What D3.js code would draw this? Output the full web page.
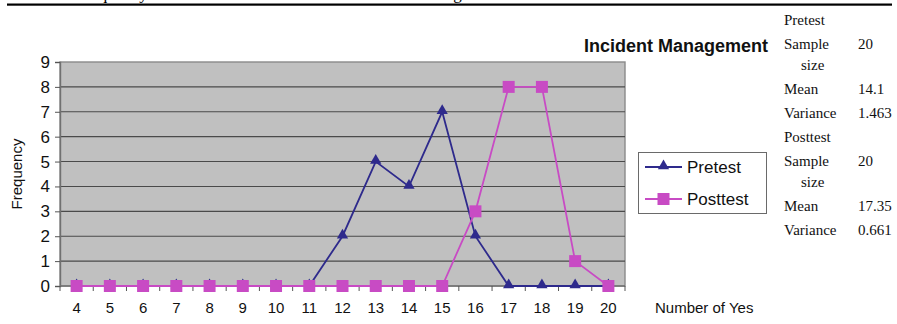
<!DOCTYPE html>
<html>
<head>
<meta charset="utf-8">
<script src="https://cdn.jsdelivr.net/npm/d3@7"></script>
<style>
  html, body { margin: 0; padding: 0; background: #fff; }
  svg { display: block; }
</style>
</head>
<body>
<svg id="chart" width="897" height="324"></svg>
<script>
// Number of "yes" answers and how many respondents gave each count
const categories = [4, 5, 6, 7, 8, 9, 10, 11, 12, 13, 14, 15, 16, 17, 18, 19, 20];
const pretest  = [0, 0, 0, 0, 0, 0, 0, 0, 2, 5, 4, 7, 2, 0, 0, 0, 0];
const posttest = [0, 0, 0, 0, 0, 0, 0, 0, 0, 0, 0, 0, 3, 8, 8, 1, 0];
const yTicks = [0, 1, 2, 3, 4, 5, 6, 7, 8, 9];
const seriesNames = ["Pretest", "Posttest"];

// Summary statistics listed beside the chart
const statGroups = ["Pretest", "Posttest"];
const statLabels = ["Sample", "Mean", "Variance"];
const pretestStats = ["20", "14.1", "1.463"];
const posttestStats = ["20", "17.35", "0.661"];

const svg = d3.select("#chart");
const sans = "'Liberation Sans', Arial, sans-serif";
const serif = "'Liberation Serif', 'Times New Roman', serif";

// Rule and the clipped caption line above it
svg.append("text")
  .attr("x", 76).attr("y", -1)
  .attr("font-family", serif).attr("font-size", 17)
  .text("Frequency distribution of the answers to Incident Management");
svg.append("rect")
  .attr("x", 7).attr("y", 3.5).attr("width", 885).attr("height", 2.2)
  .attr("fill", "#000");

// Plot area
const plot = { left: 60, top: 62, right: 625, bottom: 286 };

const x = d3.scaleBand()
  .domain(categories)
  .range([plot.left, plot.right])
  .paddingInner(0).paddingOuter(0);
const y = d3.scaleLinear()
  .domain([0, 9])
  .range([plot.bottom, plot.top]);

svg.append("rect")
  .attr("x", plot.left).attr("y", plot.top)
  .attr("width", plot.right - plot.left).attr("height", plot.bottom - plot.top)
  .attr("fill", "#c0c0c0")
  .attr("stroke", "#8a8a8a").attr("stroke-width", 1.4);

// Horizontal gridlines
svg.append("g")
  .selectAll("line")
  .data(yTicks.filter(d => d > 0 && d < 9))
  .join("line")
  .attr("x1", plot.left).attr("x2", plot.right)
  .attr("y1", d => y(d)).attr("y2", d => y(d))
  .attr("stroke", "#4a4a4a").attr("stroke-width", 1.1);

// Y axis
const yAxis = svg.append("g")
  .attr("transform", `translate(${plot.left},0)`)
  .call(d3.axisLeft(y).tickValues(yTicks).tickSize(5).tickPadding(5).tickFormat(d3.format("d")));
yAxis.select(".domain").attr("stroke", "#707070").attr("stroke-width", 1.4);
yAxis.selectAll(".tick line").attr("stroke", "#555");
yAxis.selectAll("text")
  .attr("font-family", sans).attr("font-size", 17).attr("fill", "#111");

// X axis: ticks between categories, labels centred on each category
const xAxisG = svg.append("g")
  .attr("transform", `translate(0,${plot.bottom})`);
xAxisG.append("line")
  .attr("x1", plot.left).attr("x2", plot.right)
  .attr("stroke", "#707070").attr("stroke-width", 1.4);
xAxisG.selectAll(".sep")
  .data(categories)
  .join("line")
  .attr("class", "sep")
  .attr("x1", d => x(d)).attr("x2", d => x(d))
  .attr("y1", 0).attr("y2", 5)
  .attr("stroke", "#555");
xAxisG.append("line")
  .attr("x1", plot.right).attr("x2", plot.right)
  .attr("y1", 0).attr("y2", 5).attr("stroke", "#555");
xAxisG.selectAll(".lbl")
  .data(categories)
  .join("text")
  .attr("class", "lbl")
  .attr("x", d => x(d) + x.bandwidth() / 2)
  .attr("y", 27)
  .attr("text-anchor", "middle")
  .attr("font-family", sans).attr("font-size", 15).attr("fill", "#111")
  .text(d => d);

// Axis titles
svg.append("text")
  .attr("transform", "translate(22,174) rotate(-90)")
  .attr("text-anchor", "middle")
  .attr("font-family", sans).attr("font-size", 15).attr("fill", "#111")
  .text("Frequency");
svg.append("text")
  .attr("x", 655).attr("y", 313)
  .attr("font-family", sans).attr("font-size", 15).attr("fill", "#111")
  .text("Number of Yes");

// Chart title
svg.append("text")
  .attr("x", 768).attr("y", 52)
  .attr("text-anchor", "end")
  .attr("font-family", sans).attr("font-size", 18).attr("font-weight", "bold")
  .attr("fill", "#111")
  .text("Incident Management");

// Series
const colors = { Pretest: "#2e2a8c", Posttest: "#c84bc4" };
const cx = d => x(d) + x.bandwidth() / 2;
const line = d3.line()
  .x(d => cx(d.cat))
  .y(d => y(d.val));

const seriesData = [
  { name: "Pretest", values: categories.map((c, i) => ({ cat: c, val: pretest[i] })) },
  { name: "Posttest", values: categories.map((c, i) => ({ cat: c, val: posttest[i] })) }
];

const triangle = d3.symbol().type(d3.symbolTriangle).size(55);

seriesData.forEach(s => {
  svg.append("path")
    .datum(s.values)
    .attr("d", line)
    .attr("fill", "none")
    .attr("stroke", colors[s.name])
    .attr("stroke-width", 1.8);
  const g = svg.append("g");
  if (s.name === "Pretest") {
    g.selectAll("path")
      .data(s.values)
      .join("path")
      .attr("d", triangle)
      .attr("transform", d => `translate(${cx(d.cat)},${y(d.val) - 1})`)
      .attr("fill", colors[s.name]);
  } else {
    g.selectAll("rect")
      .data(s.values)
      .join("rect")
      .attr("x", d => cx(d.cat) - 6).attr("y", d => y(d.val) - 6)
      .attr("width", 12).attr("height", 12)
      .attr("fill", colors[s.name]);
  }
});

// Legend
const legend = svg.append("g");
legend.append("rect")
  .attr("x", 638.5).attr("y", 152.5).attr("width", 128).attr("height", 61)
  .attr("fill", "#fff").attr("stroke", "#6a6a6a").attr("stroke-width", 1);
seriesNames.forEach((name, i) => {
  const ly = 167 + i * 32;
  legend.append("line")
    .attr("x1", 645).attr("x2", 682).attr("y1", ly).attr("y2", ly)
    .attr("stroke", colors[name]).attr("stroke-width", 1.8);
  if (name === "Pretest") {
    legend.append("path")
      .attr("d", triangle)
      .attr("transform", `translate(663.5,${ly - 1})`)
      .attr("fill", colors[name]);
  } else {
    legend.append("rect")
      .attr("x", 657.5).attr("y", ly - 6).attr("width", 12).attr("height", 12)
      .attr("fill", colors[name]);
  }
  legend.append("text")
    .attr("x", 687).attr("y", ly + 6)
    .attr("font-family", sans).attr("font-size", 17).attr("fill", "#111")
    .text(name);
});

// Statistics table
const table = svg.append("g")
  .attr("font-family", serif).attr("font-size", 15).attr("fill", "#111");
const groupTop = [25, 142];
statGroups.forEach((grp, gi) => {
  const vals = gi === 0 ? pretestStats : posttestStats;
  const t0 = groupTop[gi];
  table.append("text").attr("x", 784).attr("y", t0).text(grp);
  table.append("text").attr("x", 784).attr("y", t0 + 24).text(statLabels[0]);
  table.append("text").attr("x", 858).attr("y", t0 + 24).text(vals[0]);
  table.append("text").attr("x", 801).attr("y", t0 + 45).text("size");
  table.append("text").attr("x", 784).attr("y", t0 + 69).text(statLabels[1]);
  table.append("text").attr("x", 858).attr("y", t0 + 69).text(vals[1]);
  table.append("text").attr("x", 784).attr("y", t0 + 93).text(statLabels[2]);
  table.append("text").attr("x", 858).attr("y", t0 + 93).text(vals[2]);
});
</script>
</body>
</html>
